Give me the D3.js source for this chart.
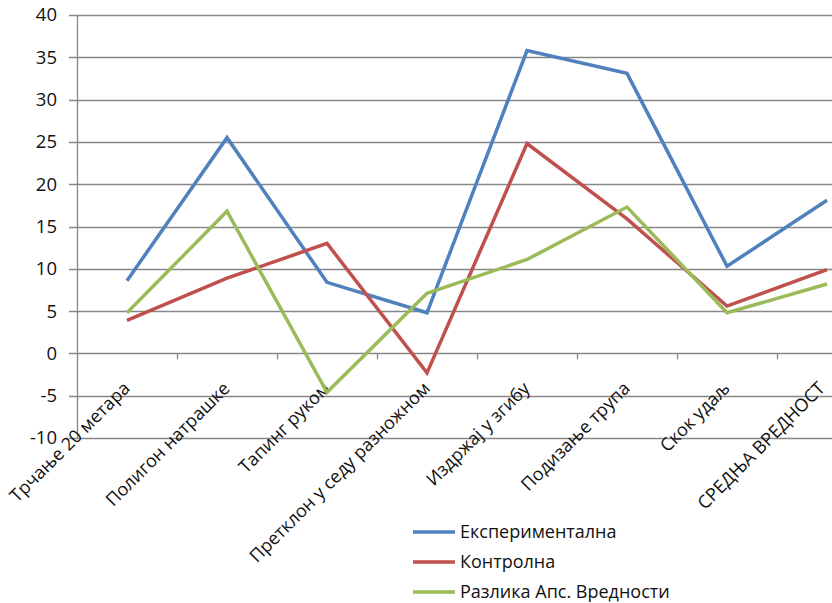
<!DOCTYPE html>
<html>
<head>
<meta charset="utf-8">
<script src="https://cdn.jsdelivr.net/npm/d3@7"></script>
<style>
  body { margin: 0; background: #fff; }
  svg { display: block; font-family: "Open Sans", "Noto Sans", sans-serif; }
  .grid line { stroke: #878787; stroke-width: 1.3; }
  .lbl { fill: #111; font-size: 18px; }
</style>
</head>
<body>
<div id="vis"></div>
<script>
'use strict';

// categories + series
var categories = ['Трчање 20 метара', 'Полигон натрашке', 'Тапинг руком', 'Претклон у седу разножном',
    'Издржај у згибу', 'Подизање трупа', 'Скок удаљ', 'СРЕДЊА ВРЕДНОСТ'];
var experimental = [8.6, 25.5, 8.4, 4.8, 35.8, 33.1, 10.3, 18.1];
var control = [3.9, 8.9, 13.0, -2.3, 24.8, 15.9, 5.6, 9.9];
var difference = [4.8, 16.8, -4.6, 7.1, 11.1, 17.3, 4.8, 8.2];
var yTicks = [-10, -5, 0, 5, 10, 15, 20, 25, 30, 35, 40];
var seriesNames = ['Експериментална', 'Контролна', 'Разлика Апс. Вредности'];

var colors = { exp: '#4F81BD', ctl: '#C0504D', diff: '#9BBB59' };

// layout (plot runs past the right edge, as in the original crop)
var W = 832, H = 603;
var margin = { left: 77, top: 15 };
var dim = { w: 800, h: 423 };

var x = d3.scaleBand().domain(categories).range([0, dim.w]);
var y = d3.scaleLinear().domain([-10, 40]).range([dim.h, 0]);

var svg = d3.select('#vis').append('svg')
    .attr('width', W)
    .attr('height', H);

var g = svg.append('g')
    .attr('transform', 'translate(' + margin.left + ',' + margin.top + ')');

//horizontal grid + y labels
var grid = g.append('g').attr('class', 'grid');
yTicks.forEach(function (t) {
    grid.append('line')
        .attr('x1', -8)
        .attr('x2', W)
        .attr('y1', Math.round(y(t)) + 0.5)
        .attr('y2', Math.round(y(t)) + 0.5);
    g.append('text')
        .attr('class', 'lbl')
        .attr('x', -20)
        .attr('y', y(t))
        .attr('dy', '0.35em')
        .attr('text-anchor', 'end')
        .style('font-size', '18.5px')
        .text(t);
});

//y axis line
grid.append('line')
    .attr('x1', 0.5).attr('x2', 0.5)
    .attr('y1', 0).attr('y2', dim.h);

//category ticks on the zero line
var y0 = Math.round(y(0)) + 0.5;
categories.forEach(function (c, i) {
    if (i === 0) return;
    grid.append('line')
        .attr('x1', x(c) + 0.5).attr('x2', x(c) + 0.5)
        .attr('y1', y0).attr('y2', y0 + 6);
});

//rotated category labels
categories.forEach(function (c, i) {
    var cx = x(c) + x.bandwidth() / 2;
    var dx = i === categories.length - 1 ? -1 : 4; //last one would get cut
    g.append('text')
        .attr('class', 'lbl')
        .attr('text-anchor', 'end')
        .attr('transform', 'translate(' + (cx + dx) + ',' + (y0 + 36) + ') rotate(-45)')
        .text(c);
});

//lines
var line = d3.line()
    .x(function (d, i) { return x(categories[i]) + x.bandwidth() / 2; })
    .y(function (d) { return y(d); });

var series = [
    { name: seriesNames[0], values: experimental, color: colors.exp },
    { name: seriesNames[1], values: control, color: colors.ctl },
    { name: seriesNames[2], values: difference, color: colors.diff }
];

series.forEach(function (s) {
    g.append('path')
        .datum(s.values)
        .attr('d', line)
        .attr('fill', 'none')
        .attr('stroke', s.color)
        .attr('stroke-width', 3.5)
        .attr('stroke-linejoin', 'miter');
});

//legend
var legend = svg.append('g').attr('transform', 'translate(413,532)');
series.forEach(function (s, i) {
    var row = legend.append('g').attr('transform', 'translate(0,' + (i * 30) + ')');
    row.append('line')
        .attr('x2', 42)
        .attr('stroke', s.color)
        .attr('stroke-width', 3.5);
    row.append('text')
        .attr('class', 'lbl')
        .attr('x', 47)
        .attr('dy', '0.35em')
        .text(s.name);
});
</script>
</body>
</html>
